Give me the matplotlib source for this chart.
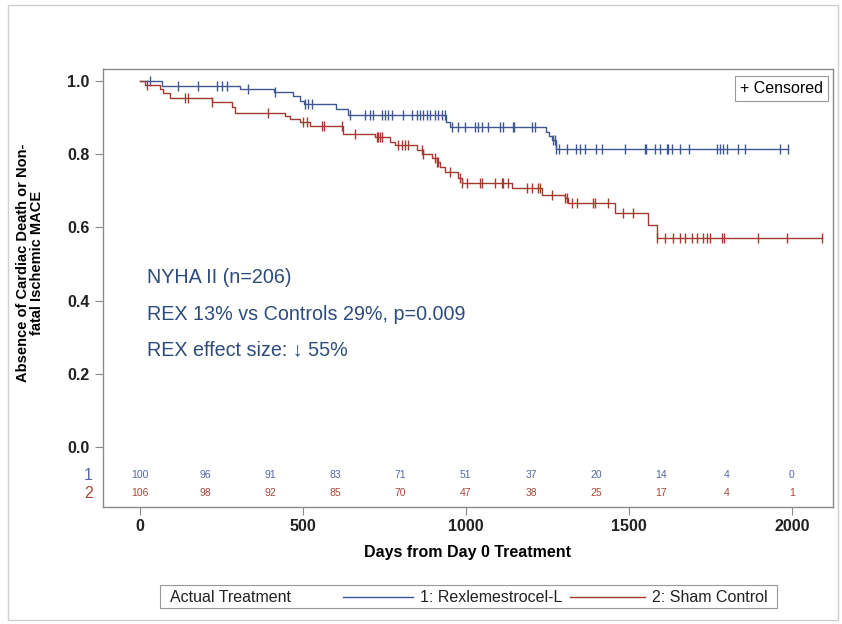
import numpy as np
import matplotlib.pyplot as plt
from matplotlib.patches import Rectangle
from matplotlib.lines import Line2D
import matplotlib.transforms as mtransforms

plt.rcParams['font.family'] = ['Liberation Sans', 'DejaVu Sans']

# Kaplan-Meier steps: event day -> survival after the event
rex_event_days = [67, 306, 413, 470, 490, 505, 603, 637, 940, 950, 1245, 1255, 1265, 1276]
rex_surv = [0.986, 0.979, 0.971, 0.958, 0.946, 0.938, 0.924, 0.908, 0.889, 0.874,
            0.862, 0.850, 0.838, 0.815]
rex_censored = [31, 117, 178, 236, 252, 267, 331, 414, 506, 515, 527, 644, 690, 706, 715,
                742, 752, 761, 773, 807, 834, 850, 859, 868, 880, 890, 905, 914, 926, 936,
                957, 975, 997, 1028, 1037, 1049, 1067, 1104, 1113, 1144, 1147, 1202, 1212,
                1267, 1273, 1276, 1285, 1310, 1337, 1350, 1365, 1399, 1417, 1488, 1549, 1552,
                1580, 1595, 1617, 1620, 1632, 1656, 1684, 1770, 1779, 1788, 1801, 1834, 1856,
                1963, 1988]

sham_event_days = [15, 61, 70, 92, 221, 282, 291, 445, 460, 491, 521, 623, 721, 767, 782,
                   850, 868, 896, 911, 920, 936, 975, 988, 1141, 1233, 1304, 1313, 1457,
                   1558, 1586]
sham_surv = [0.990, 0.978, 0.968, 0.955, 0.943, 0.928, 0.914, 0.905, 0.896, 0.887, 0.876,
             0.856, 0.847, 0.833, 0.824, 0.811, 0.800, 0.789, 0.779, 0.766, 0.752, 0.734,
             0.722, 0.708, 0.689, 0.680, 0.667, 0.640, 0.608, 0.572]
sham_censored = [21, 138, 147, 221, 393, 500, 512, 558, 564, 620, 660, 727, 730, 736, 742,
                 791, 804, 813, 822, 865, 868, 905, 911, 914, 951, 982, 988, 1003, 1043,
                 1049, 1089, 1110, 1113, 1129, 1187, 1202, 1221, 1227, 1264, 1304, 1310,
                 1325, 1340, 1390, 1396, 1436, 1482, 1512, 1586, 1610, 1635, 1656, 1672,
                 1693, 1709, 1727, 1739, 1748, 1785, 1791, 1896, 1985, 2092]

# numbers at risk
risk_days = [0, 200, 400, 600, 800, 1000, 1200, 1400, 1600, 1800, 2000]
rex_at_risk = [100, 96, 91, 83, 71, 51, 37, 20, 14, 4, 0]
sham_at_risk = [106, 98, 92, 85, 70, 47, 38, 25, 17, 4, 1]

blue = '#3f5792'
red = '#a33a2e'
blue_txt = '#5566a6'
red_txt = '#a5473a'
note_color = '#2d4c7c'

fig = plt.figure(figsize=(8.42, 6.24), dpi=100)
W, H = 842, 624
ax = fig.add_axes([103 / W, 1 - 507 / H, (833 - 103) / W, (507 - 69) / H])


def km_curve(days, surv, cens):
    x = np.concatenate([[0], days, [max(cens)]])
    y = np.concatenate([[1.0], surv, [surv[-1]]])
    levels = np.concatenate([[1.0], surv])
    cy = levels[np.searchsorted(days, cens, side='right')]
    return x, y, np.array(cens), cy


for days, surv, cens, col in [(rex_event_days, rex_surv, rex_censored, blue),
                              (sham_event_days, sham_surv, sham_censored, red)]:
    x, y, cx, cy = km_curve(days, surv, cens)
    ax.plot(x, y, drawstyle='steps-post', color=col, lw=1.0)
    ax.plot(cx, cy, ls='none', marker='|', ms=7, mew=1.0, color=col)

ax.set_xlim(-113, 2126)
ax.set_ylim(-0.164, 1.033)
ax.set_xticks([0, 500, 1000, 1500, 2000])
ax.set_yticks([0.0, 0.2, 0.4, 0.6, 0.8, 1.0])
ax.set_yticklabels(['0.0', '0.2', '0.4', '0.6', '0.8', '1.0'])
ax.tick_params(direction='out', length=6, color='#888888', labelsize=11.5,
               labelcolor='#222222')
ax.tick_params(axis='x', pad=2.5)
for lab in ax.get_xticklabels() + ax.get_yticklabels():
    lab.set_fontweight('bold')
for sp in ax.spines.values():
    sp.set_color('#8a8a8a')
    sp.set_linewidth(1.0)

# at-risk table inside the plot area
trans = mtransforms.blended_transform_factory(ax.transAxes, ax.transData)
for d, n in zip(risk_days, rex_at_risk):
    ax.text(d, -0.077, str(n), color=blue_txt, fontsize=7.5, ha='center', va='center')
for d, n in zip(risk_days, sham_at_risk):
    ax.text(d, -0.126, str(n), color=red_txt, fontsize=7.5, ha='center', va='center')
ax.text(-0.014, -0.077, '1', transform=trans, color=blue_txt, fontsize=11.5,
        ha='right', va='center')
ax.text(-0.014, -0.126, '2', transform=trans, color=red_txt, fontsize=11.5,
        ha='right', va='center')

# study summary
note_kw = dict(color=note_color, fontsize=14.2, va='center')
ax.text(21, 0.464, 'NYHA II (n=206)', **note_kw)
ax.text(21, 0.363, 'REX 13% vs Controls 29%, p=0.009', **note_kw)
ax.text(21, 0.265, 'REX effect size: \u2193 55%', **note_kw)

ax.text(0.986, 0.972, '+ Censored', transform=ax.transAxes, fontsize=11.5, ha='right',
        va='top', bbox=dict(boxstyle='square,pad=0.3', fc='white', ec='#999999', lw=0.8))

fig.text(30 / W, 1 - 263 / H, 'Absence of Cardiac Death or Non-\nfatal Ischemic MACE',
         rotation=90, ha='center', va='center', fontsize=10.5, fontweight='bold',
         linespacing=1.0)
fig.text(468 / W, 1 - 552 / H, 'Days from Day 0 Treatment', ha='center', va='center',
         fontsize=11.5, fontweight='bold')

# treatment legend at the bottom
fig.add_artist(Rectangle((160 / W, 1 - 608 / H), 617 / W, 23 / H, transform=fig.transFigure,
                         fill=False, ec='#999999', lw=0.8))
ly = 1 - 597 / H
fig.text(170 / W, ly, 'Actual Treatment', fontsize=11.5, va='center', color='#222222')
fig.add_artist(Line2D([343 / W, 413 / W], [ly, ly], color=blue, lw=1.0,
                      transform=fig.transFigure))
fig.text(420 / W, ly, '1: Rexlemestrocel-L', fontsize=11.5, va='center', color='#222222')
fig.add_artist(Line2D([570 / W, 645 / W], [ly, ly], color=red, lw=1.0,
                      transform=fig.transFigure))
fig.text(652 / W, ly, '2: Sham Control', fontsize=11.5, va='center', color='#222222')

# outer frame
fig.add_artist(Rectangle((8 / W, 4 / H), 830 / W, 615 / H, transform=fig.transFigure,
                         fill=False, ec='#d0d0d0', lw=1.0))

fig.savefig('out.png', dpi=100)
